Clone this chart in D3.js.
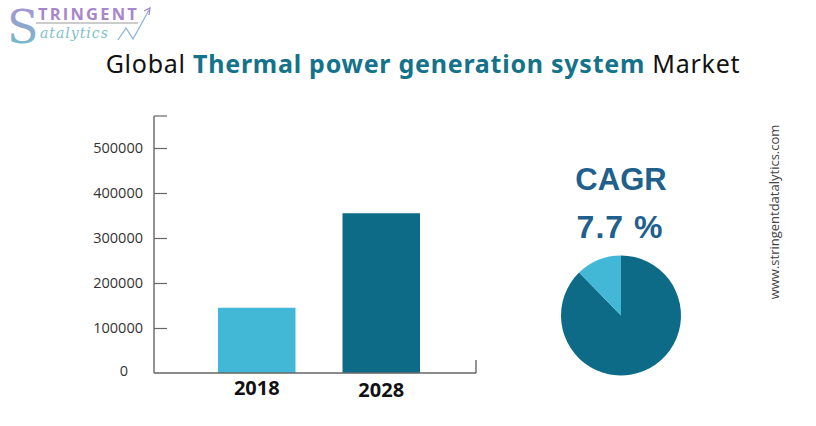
<!DOCTYPE html>
<html>
<head>
<meta charset="utf-8">
<script src="https://cdn.jsdelivr.net/npm/d3@7"></script>
<style>
  html, body { margin: 0; padding: 0; background: #ffffff; }
  svg { display: block; }
</style>
</head>
<body>
<svg id="chart" width="816" height="426"></svg>
<script>
// ---- data ----
const years = ["2018", "2028"];
const marketValues = [145000, 355000];
const yTicks = [0, 100000, 200000, 300000, 400000, 500000];
const cagrLabel = "CAGR";
const cagrValue = "7.7 %";
const pieShares = [87.7, 12.3];
const titleParts = ["Global ", "Thermal power generation system", " Market"];
const website = "www.stringentdatalytics.com";

const barColors = ["#42b8d6", "#0d6b87"];
const pieColors = ["#0d6b87", "#42b8d6"];

const svg = d3.select("#chart");

// ---- logo ----
const defs = svg.append("defs");
const grad = defs.append("linearGradient").attr("id", "sgrad")
  .attr("x1", 0).attr("y1", 0).attr("x2", 0).attr("y2", 1);
grad.append("stop").attr("offset", "0%").attr("stop-color", "#b18fd3");
grad.append("stop").attr("offset", "100%").attr("stop-color", "#68c2c8");
const logo = svg.append("g");
logo.append("text").attr("x", 7).attr("y", 43)
  .attr("font-family", "DejaVu Serif, serif").attr("font-size", 46)
  .attr("fill", "url(#sgrad)").text("S");
logo.append("text").attr("x", 38).attr("y", 20)
  .attr("font-family", "Open Sans, sans-serif").attr("font-weight", 700)
  .attr("font-size", 16.5).attr("letter-spacing", 2.2)
  .attr("fill", "#a886cb").text("TRINGENT");
logo.append("line").attr("x1", 36).attr("x2", 138).attr("y1", 23).attr("y2", 23)
  .attr("stroke", "#9a9a9a").attr("stroke-width", 1.2);
logo.append("text").attr("x", 40).attr("y", 38)
  .attr("font-family", "DejaVu Serif, serif").attr("font-style", "italic")
  .attr("font-size", 14).attr("letter-spacing", 1)
  .attr("fill", "#7dbfc6").text("atalytics");
logo.append("path")
  .attr("d", "M118,40 L126,28 L133,39 L149,10")
  .attr("fill", "none").attr("stroke", "#8fb4dc").attr("stroke-width", 1.3);
logo.append("path")
  .attr("d", "M144,11 L150,8 L149,15")
  .attr("fill", "none").attr("stroke", "#a886cb").attr("stroke-width", 1.3);

// ---- title ----
const title = svg.append("text").attr("x", 423).attr("y", 73)
  .attr("text-anchor", "middle")
  .attr("font-family", "Noto Sans, Open Sans, sans-serif")
  .attr("font-size", 25).attr("letter-spacing", 0.75).attr("fill", "#111");
title.append("tspan").text(titleParts[0]);
title.append("tspan").attr("font-weight", 700).attr("fill", "#14738a").text(titleParts[1]);
title.append("tspan").text(titleParts[2]);

// ---- bar chart ----
const axisX = 154, baseY = 373, rightX = 476;
const y = d3.scaleLinear().domain([0, 500000]).range([baseY, 148]);
const x = d3.scaleBand().domain(years).range([218, 420]).paddingInner(0.3775).paddingOuter(0);

const g = svg.append("g");

g.selectAll("rect.bar").data(years).join("rect")
  .attr("class", "bar")
  .attr("x", d => x(d))
  .attr("width", x.bandwidth())
  .attr("y", (d, i) => y(marketValues[i]))
  .attr("height", (d, i) => baseY - y(marketValues[i]))
  .attr("fill", (d, i) => barColors[i]);

// y axis
const yAxis = d3.axisRight(y).tickValues(yTicks.filter(v => v > 0)).tickSize(13).tickFormat("");
const ya = g.append("g").attr("transform", `translate(${axisX},0)`).call(yAxis);
ya.select(".domain").remove();
ya.selectAll(".tick line").attr("stroke", "#666").attr("stroke-width", 1.2);
g.append("line").attr("x1", axisX).attr("x2", axisX).attr("y1", 116).attr("y2", baseY)
  .attr("stroke", "#666").attr("stroke-width", 1.4);
g.append("line").attr("x1", axisX).attr("x2", axisX + 13).attr("y1", 116).attr("y2", 116)
  .attr("stroke", "#666").attr("stroke-width", 1.2);

// y labels
g.selectAll("text.ylab").data(yTicks).join("text")
  .attr("class", "ylab")
  .attr("x", d => d === 0 ? 128 : 143)
  .attr("y", d => (d === 0 ? y(d) - 2 : y(d)) + 5)
  .attr("text-anchor", "end")
  .attr("font-family", "Open Sans, sans-serif").attr("font-size", 14.5)
  .attr("fill", "#333")
  .text(d => d3.format("d")(d));

// baseline
g.append("line").attr("x1", axisX).attr("x2", rightX).attr("y1", baseY).attr("y2", baseY)
  .attr("stroke", "#666").attr("stroke-width", 1.4);
g.append("line").attr("x1", rightX).attr("x2", rightX).attr("y1", 360).attr("y2", baseY)
  .attr("stroke", "#666").attr("stroke-width", 1.4);

// x labels
g.selectAll("text.xlab").data(years).join("text")
  .attr("class", "xlab")
  .attr("x", d => x(d) + x.bandwidth() / 2)
  .attr("y", (d, i) => 395 + i * 2)
  .attr("text-anchor", "middle")
  .attr("font-family", "Open Sans, sans-serif").attr("font-weight", 700)
  .attr("font-size", 20).attr("fill", "#111")
  .text(d => d);

// ---- CAGR ----
svg.append("text").attr("x", 621).attr("y", 190)
  .attr("text-anchor", "middle")
  .attr("font-family", "Liberation Sans, Arial, sans-serif").attr("font-weight", 700)
  .attr("font-size", 31).attr("fill", "#215f8c").text(cagrLabel);
svg.append("text").attr("x", 620).attr("y", 238)
  .attr("text-anchor", "middle")
  .attr("font-family", "Liberation Sans, Arial, sans-serif").attr("font-weight", 700)
  .attr("font-size", 32).attr("letter-spacing", 1).attr("fill", "#215f8c").text(cagrValue);

// ---- pie ----
const pie = d3.pie().sort(null)(pieShares);
const arc = d3.arc().innerRadius(0).outerRadius(60);
svg.append("g").attr("transform", "translate(621,315.5)")
  .selectAll("path").data(pie).join("path")
  .attr("d", arc)
  .attr("fill", (d, i) => pieColors[i]);

// ---- website ----
svg.append("text")
  .attr("transform", "translate(779,212) rotate(-90)")
  .attr("text-anchor", "middle")
  .attr("font-family", "Open Sans, sans-serif").attr("font-size", 13)
  .attr("fill", "#444").text(website);
</script>
</body>
</html>
